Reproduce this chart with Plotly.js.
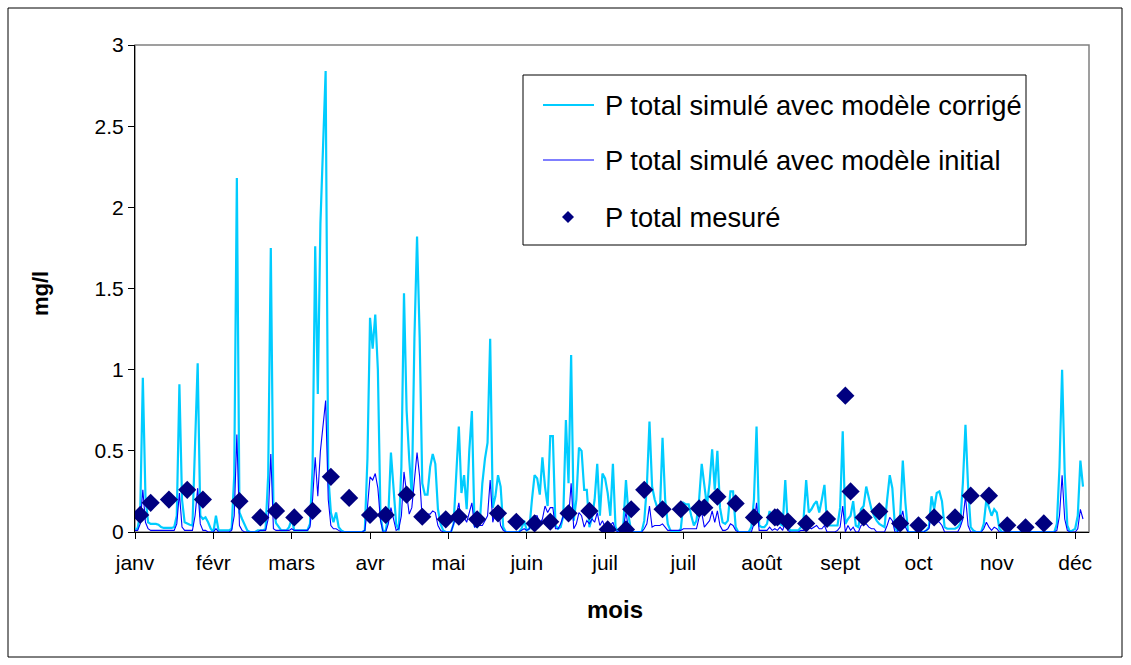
<!DOCTYPE html>
<html>
<head>
<meta charset="utf-8">
<script src="https://cdn.plot.ly/plotly-3.0.1.min.js"></script>
<style>
html,body{margin:0;padding:0;background:#fff;}
#chart{width:1131px;height:665px;}
</style>
</head>
<body>
<div id="chart"></div>
<script>
// Daily values (day 0 = start of series), mg/l
const corrige = [
  0.02,0.02,0.12,0.95,0.22,0.06,0.05,0.05,0.05,0.045, 0.03,0.025,0.025,0.025,0.025,0.03,0.1,0.91,0.2,0.06, 0.05,0.045,0.04,0.55,1.04,0.1,0.08,0.09,0.06,0.02,
  0.0,0.1,0.01,0.01,0.01,0.01,0.01,0.02,0.35,2.18, 0.12,0.08,0.04,0.01,0,0,0,0.01,0.01,0.01, 0.02,0.35,1.75,0.15,0.055,0.03,0.01,0.01,0.01,0.03,
  0.08,0.01,0.01,0.01,0.01,0.01,0.01,0.05,0.4,1.76, 0.85,1.9,2.35,2.84,0.35,0.12,0.06,0.12,0.03,0.01, 0,0,0,0,0,0,0,0,0.01,0.45,
  1.32,1.13,1.34,1.0,0.1,0,0.01,0.1,0.49,0.24, 0.05,0.01,0.4,1.47,0.75,0.45,0.22,1.2,1.82,1.2, 0.3,0.23,0.23,0.4,0.48,0.42,0.14,0.05,0.01,0,
  0,0,0.05,0.4,0.65,0.24,0.35,0.14,0.5,0.745, 0.04,0.03,0.05,0.3,0.45,0.55,1.19,0.15,0.22,0.35, 0.28,0.03,0,0,0,0,0,0,0.02,0.07,
  0.01,0.02,0.2,0.35,0.33,0.23,0.46,0.28,0.16,0.59, 0.59,0.04,0.02,0.03,0.1,0.69,0.3,1.09,0.07,0.2, 0.52,0.5,0.26,0.26,0.03,0.09,0.2,0.42,0.1,0.36,
  0.33,0.24,0.1,0.42,0.03,0,0,0.05,0.32,0.1, 0,0,0,0,0,0.07,0.28,0.68,0.28,0.2, 0.15,0.13,0.58,0.2,0.05,0.01,0,0,0,0.02,
  0.18,0.17,0.17,0.1,0.04,0.07,0.2,0.42,0.28,0.16, 0.3,0.51,0.26,0.5,0.15,0.06,0.05,0.07,0.25,0.25, 0.03,0,0,0,0,0,0.03,0.2,0.65,0.04,
  0.03,0.03,0.05,0.13,0.06,0.09,0.07,0.05,0.04,0.32, 0.03,0.01,0.01,0.01,0.01,0.03,0.08,0.32,0.12,0.14, 0.17,0.19,0.12,0.2,0.29,0.05,0.04,0.04,0.04,0.04,
  0.15,0.62,0.05,0.08,0.1,0.19,0.04,0.03,0.14,0.16, 0.28,0.2,0.14,0.1,0.07,0.05,0.04,0.03,0.2,0.35, 0.27,0.03,0,0.1,0.44,0.18,0,0,0,0,
  0,0,0,0.01,0.03,0.22,0.14,0.24,0.25,0.19, 0.03,0.02,0.02,0.02,0.02,0.03,0.05,0.3,0.66,0.28, 0.03,0.01,0,0,0,0.05,0.2,0.15,0.1,0.14,
  0.12,0.02,0,0,0,0,0,0,0,0, 0,0,0,0,0,0,0,0,0,0, 0,0,0,0.05,0.4,1.0,0.36,0.04,0,0.01, 0.02,0.1,0.44,0.28
];
const initial = [
  0.01,0.01,0.05,0.26,0.06,0.02,0.01,0.01,0.01,0.01, 0.01,0.01,0.01,0.01,0.01,0.01,0.05,0.24,0.03,0.01, 0.01,0.01,0.01,0.1,0.27,0.05,0.01,0.01,0,0,
  0,0.02,0,0,0,0,0,0.01,0.1,0.6, 0.04,0.01,0,0,0,0,0,0,0.01,0.01, 0.01,0.08,0.48,0.02,0.01,0.01,0.01,0.01,0.01,0.01,
  0.02,0.01,0.01,0.01,0.01,0.01,0.01,0.03,0.2,0.46, 0.22,0.5,0.65,0.81,0.2,0.04,0.02,0.02,0.01,0, 0,0,0,0,0,0,0,0,0.01,0.15,
  0.34,0.32,0.36,0.27,0.07,0,0,0.05,0.15,0.07, 0.01,0.02,0.1,0.37,0.24,0.11,0.15,0.3,0.49,0.34, 0.07,0.1,0.11,0.11,0.13,0.12,0.04,0.01,0,0,
  0,0,0.05,0.1,0.18,0.06,0.09,0.06,0.12,0.18, 0.03,0.04,0.04,0.04,0.07,0.1,0.32,0.06,0.12,0.15, 0.04,0.01,0,0,0,0,0,0,0.01,0.02,
  0.01,0.02,0.06,0.1,0.1,0.05,0.08,0.16,0.12,0.15, 0.15,0.02,0.02,0.05,0.1,0.14,0.08,0.3,0.02,0.05, 0.12,0.1,0.03,0.07,0.05,0.08,0.06,0.12,0.04,0.07,
  0.03,0.02,0.04,0.06,0.01,0,0,0.03,0.12,0.02, 0,0,0,0,0,0.02,0.05,0.16,0.03,0.04, 0.04,0.04,0.05,0.03,0.01,0.01,0.01,0.01,0.01,0.01,
  0.02,0.02,0.02,0.02,0.02,0.02,0.09,0.12,0.03,0.05, 0.07,0.13,0.06,0.13,0.04,0.01,0.01,0.02,0.05,0.04, 0.01,0,0,0,0,0,0,0.05,0.18,0.01,
  0.01,0.01,0.01,0.03,0.01,0.02,0.01,0.03,0.01,0.06, 0.01,0,0,0,0,0.01,0.01,0.02,0.03,0.02, 0.03,0.04,0.02,0.02,0.04,0,0,0,0,0.01,
  0.03,0.16,0,0.04,0.01,0.03,0,0,0.04,0.05, 0.05,0.03,0.02,0.02,0,0,0,0,0.04,0.09, 0.07,0,0,0.06,0.13,0.03,0,0,0,0,
  0,0,0,0.01,0.02,0.12,0.08,0.07,0.06,0.04, 0,0,0,0,0,0,0.03,0.08,0.22,0.04, 0,0,0,0,0,0.02,0.06,0.03,0.01,0.03,
  0.02,0,0,0,0,0,0,0,0,0, 0,0,0,0,0,0,0,0,0,0, 0,0,0,0.01,0.1,0.35,0.08,0.01,0,0, 0,0.02,0.14,0.08
];
const mesureDays = [2,6,13,20,26,40,48,54,61,68,75,82,90,96,104,110,119,124,131,139,146,153,159,166,174,181,188,190,195,202,209,216,218,223,230,237,245,246,250,257,265,272,274,279,285,293,300,306,314,320,327,334,341,348];
const mesure = [0.105,0.18,0.2,0.26,0.2,0.19,0.09,0.13,0.09,0.13,0.34,0.21,0.105,0.105,0.23,0.094,0.078,0.094,0.078,0.115,0.063,0.053,0.063,0.115,0.13,0.016,0.016,0.14,0.26,0.14,0.14,0.145,0.15,0.217,0.176,0.09,0.09,0.09,0.064,0.053,0.08,0.84,0.25,0.09,0.127,0.053,0.041,0.09,0.09,0.224,0.224,0.041,0.029,0.053];
const tickDays = [0,30,60,90,120,150,180,210,240,270,300,330,360];
const tickLabels = ['janv','févr','mars','avr','mai','juin','juil','juil','août','sept','oct','nov','déc'];
const seriesNames = ['P total simulé avec modèle corrigé','P total simulé avec modèle initial','P total mesuré'];

const days = corrige.map((_, i) => i);
const FONT = 'Arial, "Liberation Sans", sans-serif';

const traces = [
  {x: days, y: corrige, type: 'scatter', mode: 'lines', name: seriesNames[0],
   line: {color: '#00CCFF', width: 2.2}, showlegend: false, hoverinfo: 'skip'},
  {x: days, y: initial, type: 'scatter', mode: 'lines', name: seriesNames[1],
   line: {color: '#0000FF', width: 1.1}, showlegend: false, hoverinfo: 'skip'},
  {x: mesureDays, y: mesure, type: 'scatter', mode: 'markers', name: seriesNames[2],
   marker: {symbol: 'diamond', size: 14, color: '#000080'}, showlegend: false, hoverinfo: 'skip'}
];

// plot area in pixels: left 135, right 1089, top 45, bottom 532
const L = 135, R = 1089, T = 45, B = 532;
const px = v => (v - L) / (R - L);
const py = v => (B - v) / (B - T);

const legRows = [105, 160, 217];
const layout = {
  width: 1131, height: 665, autosize: false,
  margin: {l: L, r: 1131 - R, t: T, b: 665 - B, pad: 0},
  paper_bgcolor: '#ffffff', plot_bgcolor: '#ffffff',
  font: {family: FONT, color: '#000000', size: 20},
  showlegend: false,
  xaxis: {range: [0, 365.3], tickmode: 'array', tickvals: tickDays, ticktext: tickLabels,
    showgrid: false, zeroline: false, showline: true, linecolor: '#000000', linewidth: 1,
    ticks: 'outside', ticklen: 6, tickcolor: '#000000', tickfont: {size: 21, family: FONT},
    ticklabelstandoff: 6, fixedrange: true},
  yaxis: {range: [0, 3], dtick: 0.5, tick0: 0, showgrid: false, zeroline: false, showline: true,
    linecolor: '#000000', linewidth: 1, ticks: 'outside', ticklen: 6, tickcolor: '#000000',
    tickfont: {size: 21, family: FONT}, fixedrange: true},
  shapes: [
    {type: 'rect', xref: 'paper', yref: 'paper', x0: 0, x1: 1, y0: 0, y1: 1,
     line: {color: '#808080', width: 1.5}, layer: 'below'},
    {type: 'rect', xref: 'paper', yref: 'paper', x0: px(8), x1: px(1122), y0: py(657), y1: py(8),
     line: {color: '#000000', width: 1}, layer: 'below'},
    // legend box
    {type: 'rect', xref: 'paper', yref: 'paper', x0: px(523), x1: px(1026), y0: py(245), y1: py(75),
     line: {color: '#000000', width: 1}, fillcolor: '#ffffff', layer: 'above'},
    {type: 'line', xref: 'paper', yref: 'paper', x0: px(543), x1: px(594), y0: py(legRows[0]), y1: py(legRows[0]),
     line: {color: '#00CCFF', width: 2.2}},
    {type: 'line', xref: 'paper', yref: 'paper', x0: px(543), x1: px(594), y0: py(legRows[1]), y1: py(legRows[1]),
     line: {color: '#0000FF', width: 1.1}},
    {type: 'path', xref: 'paper', yref: 'paper', xsizemode: 'pixel', ysizemode: 'pixel',
     xanchor: px(568), yanchor: py(legRows[2]), path: 'M0,6 L6,0 L0,-6 L-6,0 Z',
     fillcolor: '#000080', line: {color: '#000080', width: 0}}
  ],
  annotations: [
    {text: seriesNames[0], xref: 'paper', yref: 'paper', x: px(603), y: py(legRows[0]), xanchor: 'left', yanchor: 'middle',
     showarrow: false, font: {size: 27.3, family: FONT, color: '#000'}},
    {text: seriesNames[1], xref: 'paper', yref: 'paper', x: px(603), y: py(legRows[1]), xanchor: 'left', yanchor: 'middle',
     showarrow: false, font: {size: 27.3, family: FONT, color: '#000'}},
    {text: seriesNames[2], xref: 'paper', yref: 'paper', x: px(603), y: py(legRows[2]), xanchor: 'left', yanchor: 'middle',
     showarrow: false, font: {size: 27.3, family: FONT, color: '#000'}},
    {text: '<b>mois</b>', xref: 'paper', yref: 'paper', x: px(615), y: py(609), xanchor: 'center', yanchor: 'middle',
     showarrow: false, font: {size: 24, family: FONT, color: '#000'}},
    {text: '<b>mg/l</b>', xref: 'paper', yref: 'paper', x: px(40), y: py(294), xanchor: 'center', yanchor: 'middle',
     textangle: -90, showarrow: false, font: {size: 22, family: FONT, color: '#000'}}
  ]
};

Plotly.newPlot('chart', traces, layout, {displayModeBar: false, staticPlot: true});
</script>
</body>
</html>
